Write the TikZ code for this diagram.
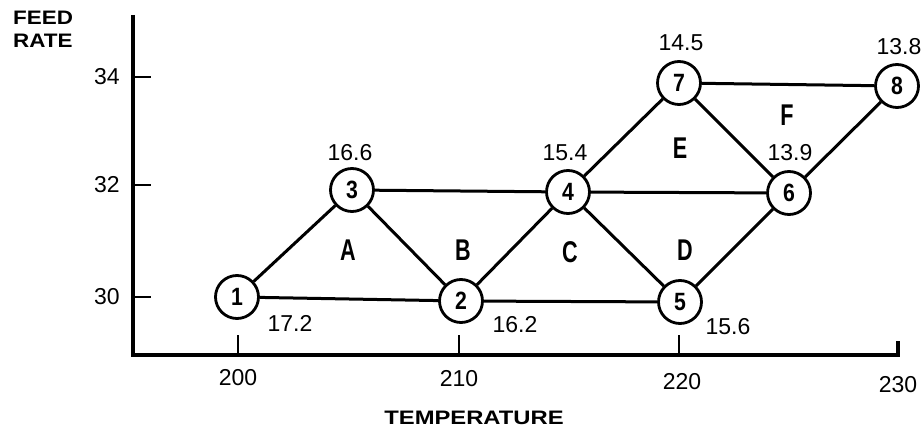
\documentclass[tikz,border=0pt]{standalone}
\usepackage{fontspec}
\setmainfont{Liberation Sans}
\begin{document}
\begin{tikzpicture}[x=1pt,y=-1pt,
  axis/.style={line width=3.6pt},
  tick/.style={line width=2pt},
  edge/.style={line width=3pt},
  pt/.style={circle,draw,line width=2.8pt,minimum size=43pt,inner sep=0pt,fill=white,
     font=\fontsize{25}{25}\selectfont\bfseries},
  val/.style={font=\fontsize{23}{23}\selectfont,inner sep=0pt},
  region/.style={font=\fontsize{30}{30}\selectfont\bfseries,inner sep=0pt},
  axlabel/.style={font=\fontsize{19.5}{19.5}\selectfont\bfseries,inner sep=0pt}]
\useasboundingbox (0,0) rectangle (921,427);
% axes
\coordinate (ytop) at (133,15);
\coordinate (orig) at (133,355);
\coordinate (xend) at (898,355);
\coordinate (xendtop) at (898,341);
\draw[axis,line join=miter] (ytop) -- (orig) -- (xend) -- (xendtop);
% y ticks
\foreach \yy/\lab in {77/34,185/32,297/30}{
  \coordinate (yt\lab) at (133,\yy);
  \coordinate (yte\lab) at (151,\yy);
  \draw[tick] (yt\lab) -- (yte\lab);
  \node[val] (yl\lab) at (107,\yy) {\lab};
}
% x ticks
\foreach \xx/\lab in {238/200,459/210,679/220}{
  \coordinate (xt\lab) at (\xx,355);
  \coordinate (xte\lab) at (\xx,335);
  \draw[tick] (xt\lab) -- (xte\lab);
}
\node[val] (xl200) at (238,378) {200};
\node[val] (xl210) at (459,379) {210};
\node[val] (xl220) at (682,382) {220};
\node[val] (xl230) at (898,385) {230};
% axis titles
\node[axlabel,anchor=north west,align=left] (ylab) at (13,11) {\scalebox{1.15}[1]{FEED}\\[3pt]\scalebox{1.15}[1]{RATE}};
\node[axlabel] (xlab) at (474,418) {\scalebox{1.22}[1]{TEMPERATURE}};
% nodes
\node[pt] (n1) at (237,297) {\scalebox{0.85}[1]{1}};
\node[pt] (n2) at (461,301) {\scalebox{0.85}[1]{2}};
\node[pt] (n3) at (352,190) {\scalebox{0.85}[1]{3}};
\node[pt] (n4) at (568,192) {\scalebox{0.85}[1]{4}};
\node[pt] (n5) at (680,302) {\scalebox{0.85}[1]{5}};
\node[pt] (n6) at (789,193) {\scalebox{0.85}[1]{6}};
\node[pt] (n7) at (679,83) {\scalebox{0.85}[1]{7}};
\node[pt] (n8) at (897,86) {\scalebox{0.85}[1]{8}};
% edges
\foreach \a/\b in {1/3,1/2,3/2,3/4,2/4,2/5,4/5,4/6,4/7,5/6,7/6,7/8,6/8}{
  \draw[edge] (n\a) -- (n\b);
}
% values
\node[val] (v1) at (290,323) {17.2};
\node[val] (v2) at (515,325) {16.2};
\node[val] (v5) at (728,327) {15.6};
\node[val] (v3) at (350,153) {16.6};
\node[val] (v4) at (565,153) {15.4};
\node[val] (v6) at (790,153) {13.9};
\node[val] (v7) at (681,43) {14.5};
\node[val] (v8) at (899,47) {13.8};
% regions
\node[region] (rA) at (348,250) {\scalebox{0.72}[1]{A}};
\node[region] (rB) at (463,250) {\scalebox{0.72}[1]{B}};
\node[region] (rC) at (570,252) {\scalebox{0.72}[1]{C}};
\node[region] (rD) at (685,250) {\scalebox{0.72}[1]{D}};
\node[region] (rE) at (680,148) {\scalebox{0.72}[1]{E}};
\node[region] (rF) at (787,115) {\scalebox{0.72}[1]{F}};
\end{tikzpicture}
\end{document}
